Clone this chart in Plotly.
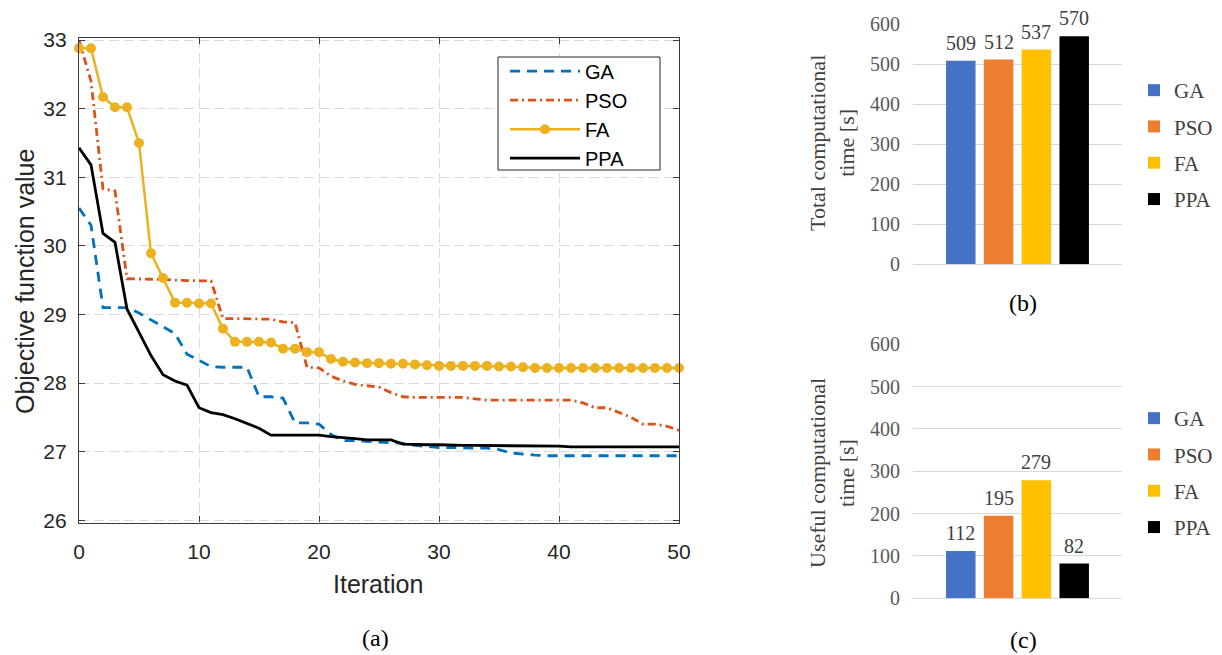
import plotly.graph_objects as go

# ---------------- data ----------------
iterations = list(range(0, 51))

ga = [30.55, 30.30, 29.10, 29.10, 29.10, 29.02, 28.92, 28.82, 28.72, 28.42,
      28.33, 28.24, 28.23, 28.23, 28.23, 27.80, 27.80, 27.78, 27.42, 27.42,
      27.40, 27.25, 27.16, 27.16, 27.15, 27.15, 27.14, 27.12, 27.09, 27.07,
      27.06, 27.06, 27.05, 27.05, 27.05, 27.03, 26.98, 26.96, 26.95, 26.94,
      26.94, 26.94, 26.94, 26.94, 26.94, 26.94, 26.94, 26.94, 26.94, 26.94,
      26.94]

pso = [33.00, 32.40, 30.83, 30.80, 29.52, 29.52, 29.51, 29.51, 29.50, 29.49,
       29.49, 29.49, 28.94, 28.94, 28.94, 28.94, 28.93, 28.89, 28.88, 28.23,
       28.22, 28.10, 28.03, 27.98, 27.96, 27.94, 27.86, 27.80, 27.79, 27.79,
       27.79, 27.79, 27.79, 27.77, 27.75, 27.75, 27.75, 27.75, 27.75, 27.75,
       27.75, 27.75, 27.71, 27.64, 27.64, 27.57, 27.50, 27.40, 27.40, 27.37,
       27.31]

fa = [32.88, 32.88, 32.17, 32.02, 32.02, 31.50, 29.89, 29.53, 29.17, 29.17,
      29.16, 29.16, 28.79, 28.60, 28.60, 28.60, 28.59, 28.50, 28.50, 28.45,
      28.45, 28.35, 28.31, 28.30, 28.29, 28.29, 28.28, 28.28, 28.27, 28.26,
      28.25, 28.25, 28.25, 28.25, 28.25, 28.24, 28.24, 28.23, 28.22, 28.22,
      28.22, 28.22, 28.22, 28.22, 28.22, 28.22, 28.22, 28.22, 28.22, 28.22,
      28.22]

ppa = [31.43, 31.18, 30.18, 30.05, 29.08, 28.74, 28.40, 28.12, 28.03, 27.97,
       27.64, 27.57, 27.54, 27.48, 27.41, 27.34, 27.24, 27.24, 27.24, 27.24,
       27.24, 27.22, 27.21, 27.19, 27.17, 27.17, 27.17, 27.11, 27.10, 27.10,
       27.10, 27.09, 27.09, 27.09, 27.09, 27.09, 27.08, 27.08, 27.08, 27.08,
       27.08, 27.07, 27.07, 27.07, 27.07, 27.07, 27.07, 27.07, 27.07, 27.07,
       27.07]

algorithms = ["GA", "PSO", "FA", "PPA"]
total_time = [509, 512, 537, 570]
useful_time = [112, 195, 279, 82]

y_ticks_left = [26, 27, 28, 29, 30, 31, 32, 33]
x_ticks_left = [0, 10, 20, 30, 40, 50]
bar_ticks = [0, 100, 200, 300, 400, 500, 600]

# ---------------- styles ----------------
W, H = 1222, 655
SANS = "Liberation Sans, Arial, sans-serif"
SERIF = "Liberation Serif, Times New Roman, serif"
line_colors = ["#0072BD", "#D95319", "#EDB120", "#000000"]
bar_colors = ["#4472C4", "#ED7D31", "#FFC000", "#000000"]


def px_x(p):
    return p / W


def px_y(p):
    return 1 - p / H


fig = go.Figure()

# ---------------- line chart (a) ----------------
fig.add_trace(go.Scatter(x=iterations, y=ga, name="GA", mode="lines",
                         line=dict(color=line_colors[0], width=2.8, dash="10px,7px"),
                         legend="legend"))
fig.add_trace(go.Scatter(x=iterations, y=pso, name="PSO", mode="lines",
                         line=dict(color=line_colors[1], width=2.8, dash="8px,4px,2px,4px"),
                         legend="legend"))
fig.add_trace(go.Scatter(x=iterations, y=fa, name="FA", mode="lines+markers",
                         line=dict(color=line_colors[2], width=2.5),
                         marker=dict(color=line_colors[2], size=10, symbol="circle"),
                         cliponaxis=False, legend="legend"))
fig.add_trace(go.Scatter(x=iterations, y=ppa, name="PPA", mode="lines",
                         line=dict(color=line_colors[3], width=2.8),
                         legend="legend"))

# ---------------- bar charts (b) and (c) ----------------
annotations = []
for i, alg in enumerate(algorithms):
    fig.add_trace(go.Bar(x=[alg], y=[total_time[i]], name=alg,
                         marker=dict(color=bar_colors[i], line=dict(width=0)),
                         legendgroup="b" + alg,
                         xaxis="x2", yaxis="y2", legend="legend2"))
    annotations.append(dict(text=str(total_time[i]), x=alg, y=total_time[i],
                            xref="x2", yref="y2", showarrow=False,
                            xanchor="center", yanchor="bottom", yshift=5,
                            font=dict(family=SERIF, size=20, color="#404040")))
for i, alg in enumerate(algorithms):
    fig.add_trace(go.Bar(x=[alg], y=[useful_time[i]], name=alg,
                         marker=dict(color=bar_colors[i], line=dict(width=0)),
                         legendgroup="c" + alg,
                         xaxis="x3", yaxis="y3", legend="legend3"))
    annotations.append(dict(text=str(useful_time[i]), x=alg, y=useful_time[i],
                            xref="x3", yref="y3", showarrow=False,
                            xanchor="center", yanchor="bottom", yshift=5,
                            font=dict(family=SERIF, size=20, color="#404040")))

axis_frame = dict(showline=True, linecolor="#3a3a3a", linewidth=1.3, mirror="ticks",
                  ticks="inside", ticklen=6, tickcolor="#3a3a3a", tickwidth=1,
                  showgrid=True, gridcolor="#dadada", gridwidth=1, griddash="10px,5px",
                  zeroline=False, automargin=False,
                  tickfont=dict(family=SANS, size=21, color="#262626"))

bar_y = dict(range=[0, 600], tickvals=bar_ticks, showline=False, ticks="",
             showgrid=True, gridcolor="#d9d9d9", gridwidth=1,
             zeroline=True, zerolinecolor="#d9d9d9", zerolinewidth=1,
             tickfont=dict(family=SERIF, size=20, color="#595959"),
             ticklabelstandoff=12, automargin=False)
bar_x = dict(type="category", categoryorder="array", categoryarray=algorithms,
             range=[-1.265, 4.265], showticklabels=False, showgrid=False,
             zeroline=False, showline=False, ticks="", automargin=False)

annotations += [
    dict(text="Objective function value", x=px_x(25), y=px_y(282),
         xref="paper", yref="paper", showarrow=False, textangle=-90,
         xanchor="center", yanchor="middle",
         font=dict(family=SANS, size=25, color="#262626")),
    dict(text="Iteration", x=px_x(378), y=px_y(584),
         xref="paper", yref="paper", showarrow=False,
         xanchor="center", yanchor="middle",
         font=dict(family=SANS, size=25, color="#262626")),
    dict(text="(a)", x=px_x(375), y=px_y(638),
         xref="paper", yref="paper", showarrow=False,
         xanchor="center", yanchor="middle",
         font=dict(family=SERIF, size=24, color="#000000")),
    dict(text="(b)", x=px_x(1023), y=px_y(303),
         xref="paper", yref="paper", showarrow=False,
         xanchor="center", yanchor="middle",
         font=dict(family=SERIF, size=24, color="#000000")),
    dict(text="(c)", x=px_x(1023), y=px_y(640),
         xref="paper", yref="paper", showarrow=False,
         xanchor="center", yanchor="middle",
         font=dict(family=SERIF, size=24, color="#000000")),
    dict(text="Total computational<br>time [s]", x=px_x(832), y=px_y(143),
         xref="paper", yref="paper", showarrow=False, textangle=-90,
         xanchor="center", yanchor="middle",
         font=dict(family=SERIF, size=22, color="#404040")),
    dict(text="Useful computational<br>time [s]", x=px_x(832), y=px_y(473),
         xref="paper", yref="paper", showarrow=False, textangle=-90,
         xanchor="center", yanchor="middle",
         font=dict(family=SERIF, size=22, color="#404040")),
]

# legend frame of the line chart
shapes = [dict(type="rect", xref="paper", yref="paper",
               x0=px_x(498), x1=px_x(660), y0=px_y(170), y1=px_y(57),
               fillcolor="white", line=dict(color="#262626", width=1),
               layer="above")]

fig.update_layout(
    width=W, height=H,
    margin=dict(l=0, r=0, t=0, b=0, autoexpand=False),
    paper_bgcolor="white", plot_bgcolor="white",
    barmode="overlay", bargap=0.22,
    xaxis=dict(domain=[px_x(79), px_x(679)], range=[0, 50], tickvals=x_ticks_left,
               ticklabelstandoff=10, anchor="y", **axis_frame),
    yaxis=dict(domain=[px_y(522.5), px_y(38.3)], range=[25.967, 33.025],
               tickvals=y_ticks_left, ticklabelstandoff=7, anchor="x", **axis_frame),
    xaxis2=dict(domain=[px_x(913), px_x(1122)], anchor="y2", **bar_x),
    yaxis2=dict(domain=[px_y(264.3), px_y(24.3)], anchor="x2", **bar_y),
    xaxis3=dict(domain=[px_x(913), px_x(1122)], anchor="y3", **bar_x),
    yaxis3=dict(domain=[px_y(598.3), px_y(344.3)], anchor="x3", **bar_y),
    legend=dict(x=px_x(505), y=px_y(114.7), xanchor="left", yanchor="middle",
                bgcolor="rgba(0,0,0,0)", borderwidth=0,
                font=dict(family=SANS, size=20, color="#000000"),
                itemwidth=70, tracegroupgap=0),
    legend2=dict(x=px_x(1134), y=px_y(145), xanchor="left", yanchor="middle",
                 bgcolor="rgba(0,0,0,0)", borderwidth=0,
                 font=dict(family=SERIF, size=21, color="#404040"),
                 tracegroupgap=6),
    legend3=dict(x=px_x(1134), y=px_y(473), xanchor="left", yanchor="middle",
                 bgcolor="rgba(0,0,0,0)", borderwidth=0,
                 font=dict(family=SERIF, size=21, color="#404040"),
                 tracegroupgap=6),
    annotations=annotations,
    shapes=shapes,
)

fig.write_html("out.html")
